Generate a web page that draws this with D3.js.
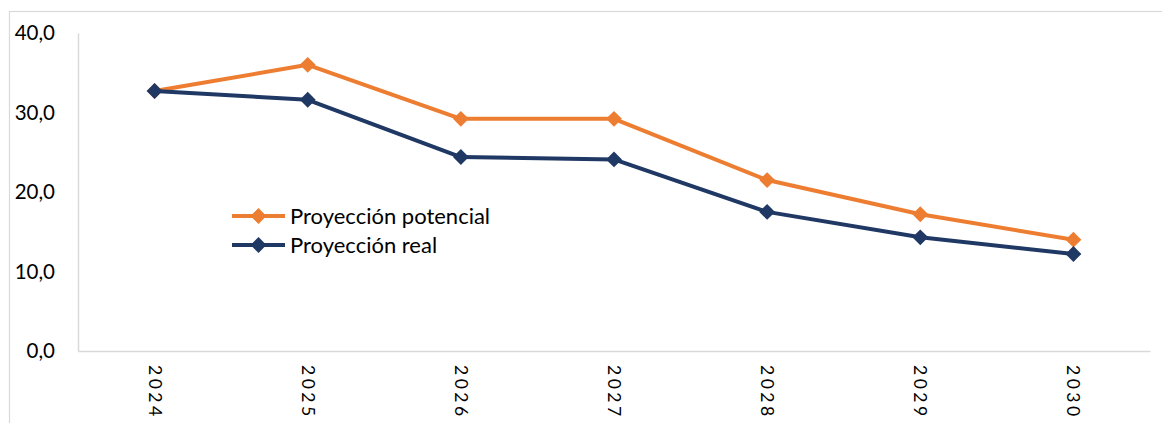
<!DOCTYPE html>
<html><head><meta charset="utf-8">
<script src="https://cdn.jsdelivr.net/npm/d3@7"></script>
<style>html,body{margin:0;padding:0;background:#fff;overflow:hidden}</style>
</head><body>
<svg id="c" width="1162" height="423"></svg>
<script>
const years = ["2024","2025","2026","2027","2028","2029","2030"];
const potencial = [32.7, 36.0, 29.2, 29.2, 21.5, 17.2, 14.0];
const real = [32.7, 31.6, 24.4, 24.1, 17.5, 14.3, 12.2];
const yTicks = [0, 10, 20, 30, 40];
const seriesNames = ["Proyección potencial", "Proyección real"];
const colors = ["#ED7D31", "#203864"];

(function(){
const svg = d3.select("#c");
const font = "Lato, 'Noto Sans', sans-serif";
// outer chart border
svg.append("rect").attr("x",9.5).attr("y",11.5).attr("width",1200).attr("height",500)
  .attr("fill","none").attr("stroke","#d9d9d9").attr("stroke-width",1.2);

const mLeft = 78, mRight = 1150, mTop = 33, mBottom = 351;
const x = d3.scaleBand().domain(years).range([mLeft, mRight]);
const y = d3.scaleLinear().domain([0, 40]).range([mBottom, mTop]);

// axes
const yAxis = svg.append("g").attr("transform",`translate(${mLeft},0)`)
  .call(d3.axisLeft(y).tickValues(yTicks).tickSize(0).tickPadding(23)
    .tickFormat(d => d3.format(".1f")(d).replace(".", ",")));
yAxis.select(".domain").attr("stroke","#d9d9d9").attr("stroke-width",1.5);
yAxis.selectAll("text").attr("font-family",font).attr("font-size",20.5).attr("fill","#000");

const xAxis = svg.append("g").attr("transform",`translate(0,${mBottom})`)
  .call(d3.axisBottom(x).tickSize(0).tickPadding(0));
xAxis.select(".domain").attr("stroke","#d9d9d9").attr("stroke-width",1.5);
xAxis.selectAll("text").attr("font-family",font).attr("font-size",17.5).attr("fill","#000")
  .attr("letter-spacing","3.5px")
  .attr("text-anchor","start").attr("dy",null).attr("y",null)
  .attr("transform","translate(-6,14) rotate(90)");

const line = d3.line().x((d,i)=>x(years[i])+x.bandwidth()/2).y(d=>y(d));
const diamond = d3.symbol().type(d3.symbolDiamond2).size(160);
const data = [potencial, real];
data.forEach((vals, k) => {
  svg.append("path").datum(vals).attr("d", line).attr("fill","none")
    .attr("stroke", colors[k]).attr("stroke-width",4).attr("stroke-linejoin","round");
  svg.selectAll(null).data(vals).enter().append("path")
    .attr("d", diamond)
    .attr("transform",(d,i)=>`translate(${x(years[i])+x.bandwidth()/2},${y(d)})`)
    .attr("fill", colors[k]);
});

// legend
const lg = svg.append("g");
seriesNames.forEach((n,k) => {
  const ly = 216 + k*29;
  lg.append("line").attr("x1",232).attr("x2",285).attr("y1",ly).attr("y2",ly)
    .attr("stroke",colors[k]).attr("stroke-width",4);
  lg.append("path").attr("d",diamond).attr("transform",`translate(258.5,${ly})`).attr("fill",colors[k]);
  lg.append("text").attr("x",290).attr("y",ly).attr("dy","0.35em")
    .attr("font-family",font).attr("font-size",22).attr("fill","#000").text(n);
});
})();
</script>
</body></html>
